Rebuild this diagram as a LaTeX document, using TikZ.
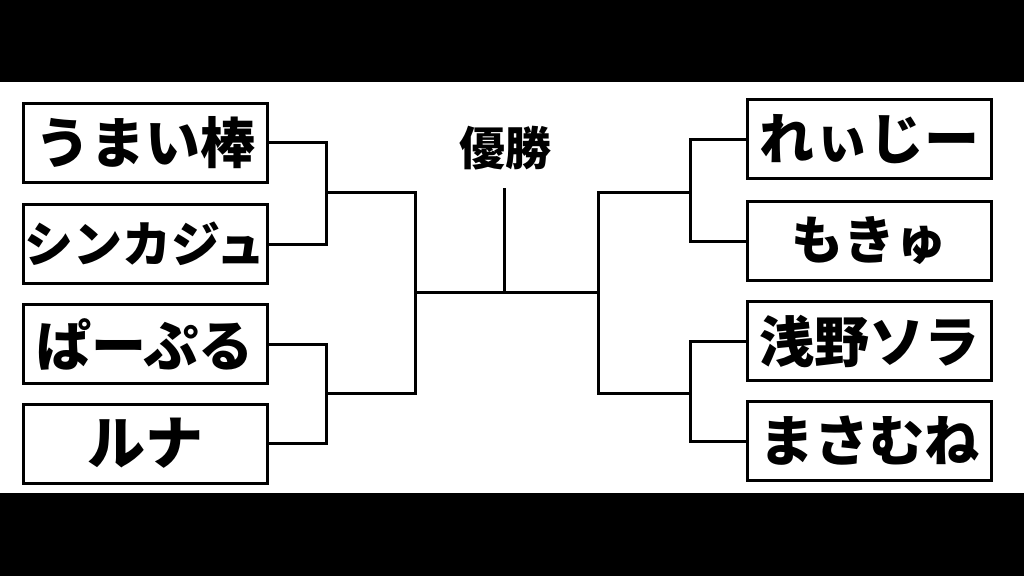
\documentclass[tikz,border=0pt]{standalone}
\usepackage{fontspec}
\newfontfamily\cjk{Noto Sans CJK JP}[BoldFont={Noto Sans CJK JP Black}]
\tikzset{
  namebox/.style={draw, line width=3pt, minimum width=244pt, minimum height=79pt,
    inner sep=0pt, font=\cjk\bfseries\fontsize{55}{55}\selectfont},
  bracket/.style={line width=3pt}
}
\begin{document}
\begin{tikzpicture}[x=1pt,y=-1pt]
        \useasboundingbox (0,0) rectangle (1024,576);
        % Draw black bars top and bottom
        \fill[black] (0,0) rectangle (1024,82);
        \fill[black] (0,493) rectangle (1024,576);

        % Left side entries
        \node[namebox] (umaibo) at (145,142.5) {うまい棒};
        \node[namebox] (shinka) at (145,244) {\fontsize{49}{49}\selectfont シンカジュ};
        \node[namebox] (papuru) at (145,344) {ぱーぷる};
        \node[namebox] (luna) at (145,443.5) {\fontsize{58}{58}\selectfont ルナ};

        % Right side entries
        \node[namebox] (reiji) at (869,139) {れぃじー};
        \node[namebox] (mokyu) at (869,241) {\fontsize{52}{52}\selectfont もきゅ};
        \node[namebox] (sora) at (869,341) {浅野ソラ};
        \node[namebox] (masamune) at (869,441) {まさむね};

        % Winner label
        \node[font=\cjk\bfseries\fontsize{46}{46}\selectfont] (yusho) at (505,148) {優勝};

        % Junction points
        \coordinate (la) at (326,192);
        \coordinate (lb) at (326,393);
        \coordinate (lsemi) at (415,292);
        \coordinate (ra) at (690,192);
        \coordinate (rb) at (690,393);
        \coordinate (rsemi) at (598,292);
        \coordinate (top) at (504,188);

        % Left bracket
        \draw[bracket] (umaibo.east) -| (la) |- (shinka.east);
        \draw[bracket] (papuru.east) -| (lb) |- (luna.east);
        \draw[bracket] (la) -| (lsemi) |- (lb);

        % Right bracket
        \draw[bracket] (reiji.west) -| (ra) |- (mokyu.west);
        \draw[bracket] (sora.west) -| (rb) |- (masamune.west);
        \draw[bracket] (ra) -| (rsemi) |- (rb);

        % Final
        \draw[bracket] (lsemi) -- (rsemi);
        \draw[bracket] (top) -- (top |- lsemi);
    \end{tikzpicture}
\end{document}
